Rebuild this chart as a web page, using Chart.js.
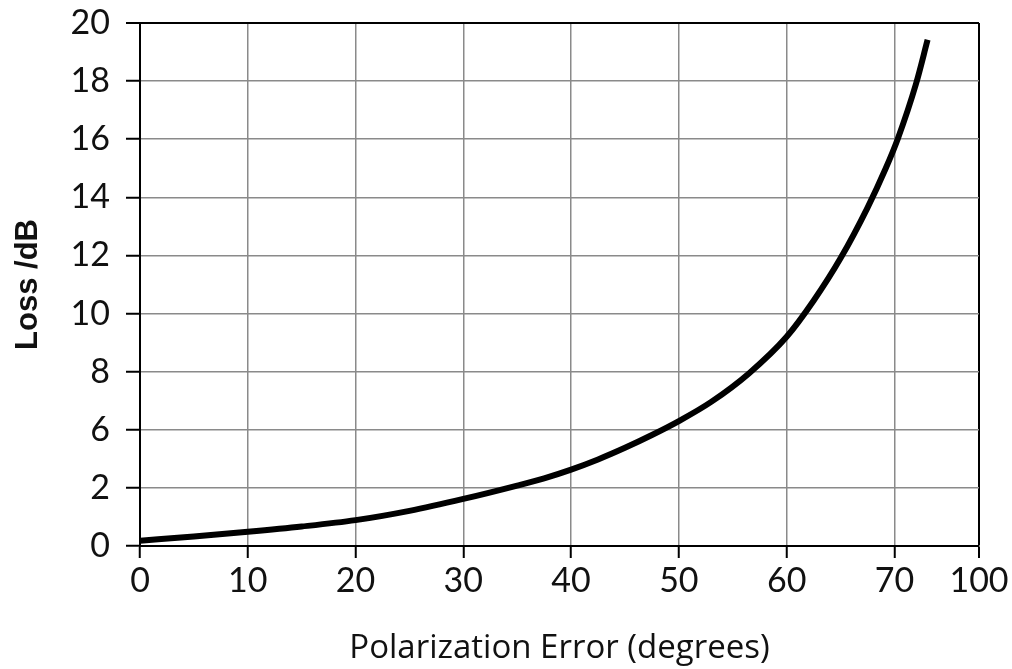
<!DOCTYPE html>
<html><head><meta charset="utf-8">
<script src="https://cdn.jsdelivr.net/npm/chart.js@4.4.0/dist/chart.umd.min.js"></script>
<style>html,body{margin:0;padding:0;background:#fff;overflow:hidden}</style>
</head><body>
<canvas id="c" width="1012" height="669"></canvas>
<script>
// ---- data ----
const xTickLabels = [0, 10, 20, 30, 40, 50, 60, 70, 100];
const yTickLabels = [0, 2, 6, 8, 10, 12, 14, 16, 18, 20];
const errorDeg = [0, 5, 10, 15, 20, 25, 30, 35, 37.5, 40, 42.5, 45, 47.5, 50, 53, 56.5, 60, 62.5, 65, 67.5, 69.2, 70.3, 72, 73.08];
const lossDb   = [0.18, 0.33, 0.49, 0.67, 0.89, 1.21, 1.62, 2.16, 2.66, 3.26, 3.96, 4.76, 5.64, 6.30, 6.96, 7.94, 9.20, 10.44, 11.90, 13.64, 15.0, 16.0, 17.9, 19.42];

// ---- layout / style ----
const X_END = 77.85; // where the "100" tick sits on the axis
const GRID = '#8a8a8a';
const TICK_FONT = {family: 'Lato', size: 34};

// map a labelled loss value onto the (evenly spaced) tick positions
function lossToPos(v) {
  for (let i = 0; i < yTickLabels.length - 1; i++) {
    const a = yTickLabels[i], b = yTickLabels[i + 1];
    if (v <= b || i === yTickLabels.length - 2) return i + (v - a) / (b - a);
  }
  return 0;
}

const points = errorDeg.map((x, i) => ({x: x, y: lossToPos(lossDb[i])}));

new Chart(document.getElementById('c'), {
  type: 'line',
  data: {datasets: [{
    data: points,
    borderColor: '#000',
    borderWidth: 6,
    pointRadius: 0,
    borderCapStyle: 'butt',
    cubicInterpolationMode: 'monotone',
    fill: false
  }]},
  options: {
    responsive: false,
    animation: false,
    devicePixelRatio: 1,
    layout: {padding: {left: 0, right: 33, top: 23, bottom: 0}},
    plugins: {legend: {display: false}, tooltip: {enabled: false}},
    scales: {
      x: {
        type: 'linear', min: 0, max: X_END,
        afterBuildTicks: s => { s.ticks = xTickLabels.map((v, i) => ({value: i < xTickLabels.length - 1 ? v : X_END})); },
        afterFit: s => { s.height = 123; s.paddingLeft = 0; s.paddingRight = 0; },
        ticks: {callback: (v, i) => String(xTickLabels[i]), font: TICK_FONT, color: '#111', padding: 3, maxRotation: 0, autoSkip: false},
        grid: {
          color: c => c.index === xTickLabels.length - 1 ? '#000' : GRID,
          lineWidth: c => c.index === xTickLabels.length - 1 ? 2 : 1.5,
          tickLength: 12, tickColor: '#000', tickWidth: 2
        },
        border: {color: '#000', width: 2},
        title: {display: true, text: 'Polarization Error (degrees)', font: {family: 'Open Sans', size: 33}, color: '#111', padding: {top: 0, bottom: 1}}
      },
      y: {
        type: 'linear', min: 0, max: yTickLabels.length - 1,
        afterBuildTicks: s => { s.ticks = yTickLabels.map((v, i) => ({value: i})); },
        afterFit: s => { s.width = 140; s.paddingTop = 0; s.paddingBottom = 0; },
        ticks: {callback: (v, i) => String(yTickLabels[i]), font: TICK_FONT, color: '#111', padding: 16, autoSkip: false},
        grid: {
          color: c => c.index === yTickLabels.length - 1 ? '#000' : GRID,
          lineWidth: c => c.index === yTickLabels.length - 1 ? 2 : 1.5,
          tickLength: 14, tickColor: '#000', tickWidth: 2
        },
        border: {color: '#000', width: 2},
        title: {display: true, text: 'Loss /dB', font: {family: 'Liberation Sans', size: 31, weight: 'bold'}, color: '#111', padding: {top: 10, bottom: 10}}
      }
    }
  }
});
</script>
</body></html>
